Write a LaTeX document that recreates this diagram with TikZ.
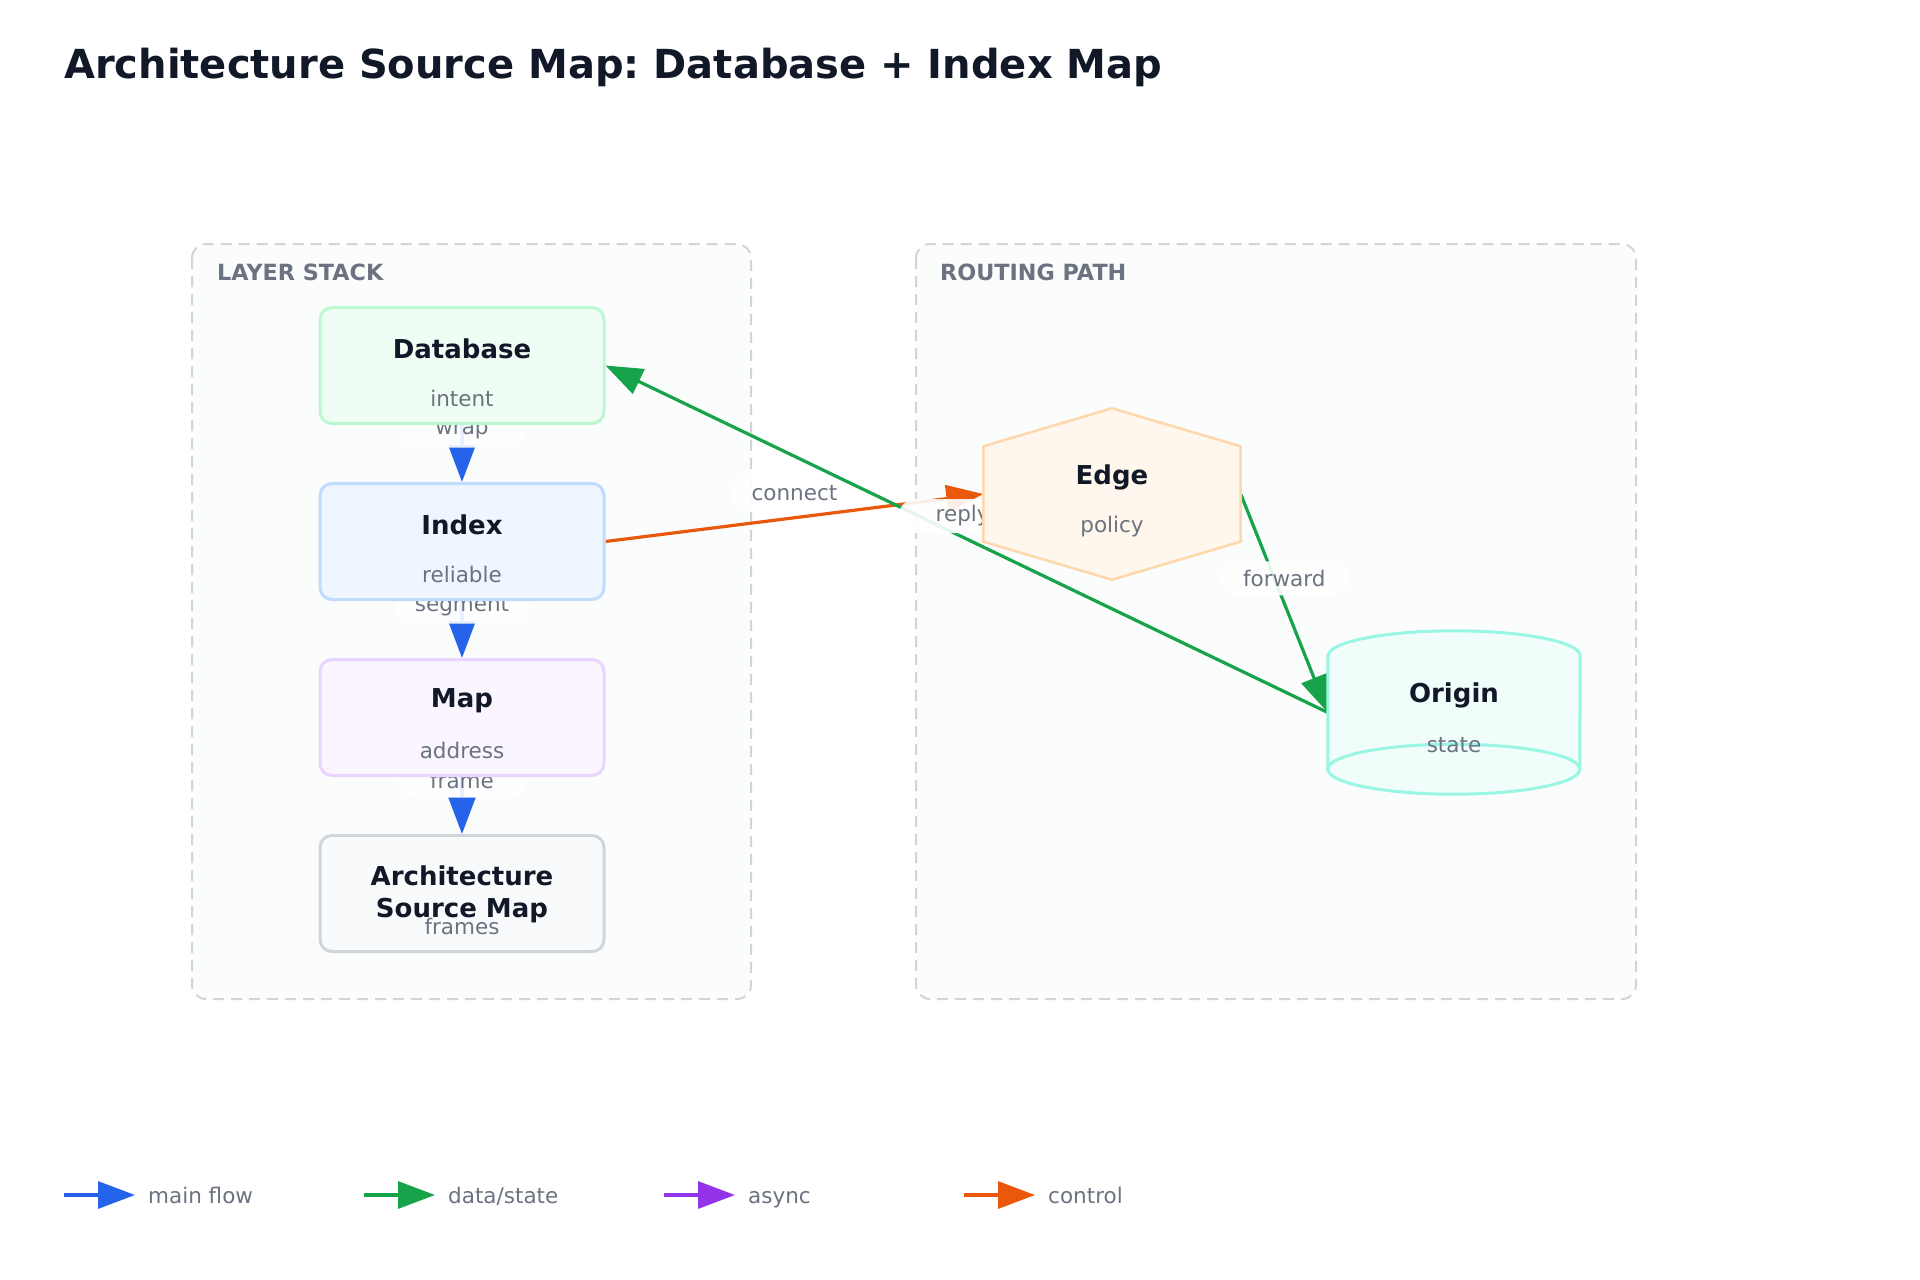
\documentclass[tikz,border=0pt]{standalone}
\usepackage{fontspec}
\setmainfont{DejaVu Sans}
\usepackage{xcolor}
\usetikzlibrary{positioning,arrows.meta}
\frenchspacing

\definecolor{ink}{HTML}{111827}
\definecolor{muted}{HTML}{6B7280}
\definecolor{grpline}{HTML}{D1D5DB}
\definecolor{grpfill}{HTML}{FBFCFC}
\definecolor{flowblue}{HTML}{2563EB}
\definecolor{datagreen}{HTML}{16A34A}
\definecolor{asyncpurple}{HTML}{9333EA}
\definecolor{ctrlorange}{HTML}{EA580C}
\definecolor{dbfill}{HTML}{F0FDF4}\definecolor{dbline}{HTML}{BBF7D0}
\definecolor{ixfill}{HTML}{EFF6FF}\definecolor{ixline}{HTML}{BFDBFE}
\definecolor{mapfill}{HTML}{FAF5FF}\definecolor{mapline}{HTML}{E9D5FF}
\definecolor{srcfill}{HTML}{F9FAFB}\definecolor{srcline}{HTML}{D1D5DB}
\definecolor{edgefill}{HTML}{FFF7ED}\definecolor{edgeline}{HTML}{FED7AA}
\definecolor{orgfill}{HTML}{F0FDFA}\definecolor{orgline}{HTML}{99F6E4}

\pgfdeclarelayer{back}
\pgfdeclarelayer{mid}
\pgfsetlayers{back,mid,main}

\begin{document}
\begin{tikzpicture}[x=1pt, y=-1pt,
    group/.style={draw=grpline, line width=2pt, dash pattern=on 11pt off 7pt, fill=grpfill, rounded corners=14pt},
    grplabel/.style={anchor=base west, inner sep=0pt, text=muted, font=\bfseries\fontsize{22.3}{26}\selectfont},
    box/.style={draw=#1line, fill=#1fill, line width=3pt, rounded corners=12pt, minimum width=284pt, minimum height=116pt},
    ttl/.style={text=ink, font=\bfseries\fontsize{26}{32}\selectfont, align=center},
    sub/.style={text=muted, font=\fontsize{21.5}{25}\selectfont},
    pill/.style={fill=white, fill opacity=0.9, text opacity=1, rounded corners=17pt, minimum width=128pt, minimum height=34pt, inner xsep=20pt, text=muted, font=\fontsize{21.5}{25}\selectfont},
    flow/.style={draw=#1, line width=3.2pt, -{Triangle[length=37pt, width=27pt]}},
  ]
  \useasboundingbox (0,0) rectangle (1920,1280);

  \begin{pgfonlayer}{back}
    \fill[white] (0,0) rectangle (1920,1280);
    \node[anchor=base west, inner sep=0pt, text=ink, font=\bfseries\fontsize{40}{48}\selectfont] (title) at (64,78) {Architecture Source Map: Database + Index Map};
    \draw[group] (192,244) rectangle (751,999);
    \draw[group] (916,244) rectangle (1636,999);
    \node[grplabel] (stackL) at (217,280) {LAYER STACK};
    \node[grplabel] (routeL) at (940,280) {ROUTING PATH};
  \end{pgfonlayer}

  % layer stack
  \node[box=db] (db) at (462,365.5) {};
  \node[box=ix, below=57pt of db] (ix) {};
  \node[box=map, below=57pt of ix] (map) {};
  \node[box=src, below=57pt of map] (src) {};

  % routing path
  \node[minimum width=257pt, minimum height=95pt, inner sep=0pt] (edge) at (1112,494) {};
  \node[minimum width=252pt, minimum height=113pt, inner sep=0pt] (origin) at (1454,712.5) {};
  \draw[draw=edgeline, fill=edgefill, line width=2.5pt] (edge.north west) -- ([yshift=38pt]edge.north) -- (edge.north east)
    -- (edge.south east) -- ([yshift=-38pt]edge.south) -- (edge.south west) -- cycle;
  \draw[draw=orgline, fill=orgfill, line width=3pt] (origin.north west) -- (origin.south west)
    arc[start angle=180, end angle=360, x radius=126pt, y radius=25pt] -- (origin.north east)
    arc[start angle=0, end angle=180, x radius=126pt, y radius=25pt] -- cycle;
  \draw[draw=orgline, line width=3pt] (origin.south west) arc[start angle=180, end angle=0, x radius=126pt, y radius=25pt];

  \foreach \n/\t/\s in {db/Database/intent, ix/Index/reliable, map/Map/address, edge/Edge/policy, origin/Origin/state} {
    \node[ttl] (\n-t) at ([yshift=17pt]\n.center) {\t};
    \node[sub] (\n-s) at ([yshift=-33pt]\n.center) {\s};
  }
  \node[ttl] (src-t) at ([yshift=-1pt]src.center) {Architecture\\Source Map};
  \node[sub] (src-s) at ([yshift=-33pt]src.center) {frames};

  \begin{pgfonlayer}{mid}
    \draw[flow=flowblue] (db) -- node[pill, yshift=23pt] (wrapL) {wrap} (ix);
    \draw[flow=flowblue] (ix) -- node[pill, yshift=23pt] (segL) {segment} (map);
    \draw[flow=flowblue] (map) -- node[pill, yshift=25pt] (frameL) {frame} (src);
    \draw[flow=ctrlorange] (ix.east) -- node[pill, yshift=25pt] (connL) {connect} (edge.west);
    \draw[flow=datagreen] (origin.west) -- node[pill, xshift=-4pt, yshift=23pt] (replyL) {reply} (db.east);
    \draw[flow=datagreen] (edge.east) -- node[pill, yshift=25pt] (fwdL) {forward} (origin.west);
  \end{pgfonlayer}

  % legend
  \foreach \i/\c/\t in {0/flowblue/main flow, 1/datagreen/{data/state}, 2/asyncpurple/async, 3/ctrlorange/control} {
    \coordinate (lg\i a) at ({64+300*\i},1195);
    \coordinate (lg\i b) at ({135+300*\i},1195);
    \draw[flow=\c] (lg\i a) -- (lg\i b);
    \node[sub, anchor=base west, inner sep=0pt] (lg\i t) at ({148+300*\i},1203) {\t};
  }
\end{tikzpicture}
\end{document}
